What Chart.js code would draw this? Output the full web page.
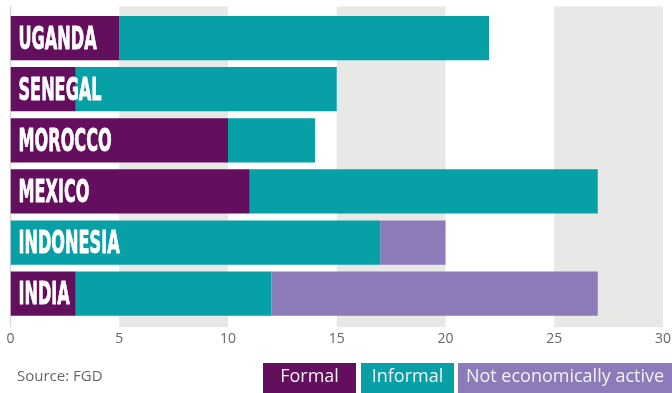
<!DOCTYPE html>
<html><head><meta charset="utf-8">
<script src="https://cdn.jsdelivr.net/npm/chart.js@4/dist/chart.umd.min.js"></script>
<style>
html,body{margin:0;padding:0;background:#fff;}
#wrap{position:relative;width:672px;height:393px;overflow:hidden;}
#c{position:absolute;left:0;top:0;}
.src{position:absolute;left:17px;top:365px;font:15px "Open Sans",sans-serif;color:#666;}
.lg{position:absolute;top:363px;height:32px;line-height:33px;text-align:center;font:18px "Open Sans",sans-serif;color:#f2f2f2;white-space:nowrap;}
</style></head>
<body><div id="wrap"><canvas id="c" width="672" height="393"></canvas>
<div class="src">Source: FGD</div>
<div id="legend"></div></div>
<script>
const countries = ["UGANDA","SENEGAL","MOROCCO","MEXICO","INDONESIA","INDIA"];
const seriesNames = ["Formal","Informal","Not economically active"];
const formal   = [5, 3, 10, 11, 0, 3];
const informal = [17, 12, 4, 16, 17, 9];
const notActive = [0, 0, 0, 0, 3, 15];
const xTicks = [0,5,10,15,20,25,30];
const colors = ["#630F5E","#07A0A6","#8D7AB8"];

const legendBoxes = [{left:263,width:93},{left:361,width:93},{left:458,width:214}];
const lgEl = document.getElementById('legend');
seriesNames.forEach((n,i)=>{
  const d=document.createElement('div');d.className='lg';
  d.style.left=legendBoxes[i].left+'px';d.style.width=legendBoxes[i].width+'px';
  d.style.background=colors[i];d.textContent=n;lgEl.appendChild(d);
});

const bandsPlugin = {
  id:'bands',
  beforeDatasetsDraw(chart){
    const {ctx, chartArea, scales:{x}} = chart;
    const top = chartArea.top-6, bottom = chartArea.bottom+8;
    ctx.save();
    ctx.fillStyle = '#E8E8E6';
    for (let v=5; v<30; v+=10){
      const a=x.getPixelForValue(v), b=x.getPixelForValue(v+5);
      ctx.fillRect(a, top, b-a, bottom-top);
    }
    ctx.strokeStyle='#D9D9D9';ctx.lineWidth=1.5;
    const x0=x.getPixelForValue(0);
    ctx.beginPath();ctx.moveTo(x0,top);ctx.lineTo(x0,bottom);ctx.stroke();
    ctx.restore();
  },
  afterDatasetsDraw(chart){
    const {ctx, scales:{x,y}} = chart;
    ctx.save();
    ctx.fillStyle='#ffffff';ctx.strokeStyle='#ffffff';ctx.lineWidth=0.8;ctx.lineJoin='round';
    ctx.font='bold 32px "Liberation Sans Narrow","DejaVu Sans Condensed",sans-serif';
    ctx.textBaseline='alphabetic';
    countries.forEach((c,i)=>{
      const yy=y.getPixelForValue(i);
      ctx.save();
      ctx.translate(x.getPixelForValue(0)+8, yy+10.5);
      ctx.scale(0.56,1);
      ctx.fillText(c,0,0);
      ctx.strokeText(c,0,0);
      ctx.restore();
    });
    ctx.restore();
  }
};

new Chart(document.getElementById('c'),{
  type:'bar',
  data:{labels:countries,datasets:[
    {label:seriesNames[0],data:formal,backgroundColor:colors[0]},
    {label:seriesNames[1],data:informal,backgroundColor:colors[1]},
    {label:seriesNames[2],data:notActive,backgroundColor:colors[2]}
  ]},
  options:{
    indexAxis:'y',responsive:false,animation:false,
    layout:{padding:{left:10.5,right:9,top:12.5,bottom:35}},
    datasets:{bar:{barPercentage:0.866,categoryPercentage:1,borderWidth:0}},
    plugins:{legend:{display:false},tooltip:{enabled:false}},
    scales:{
      x:{stacked:true,min:0,max:30,
        afterBuildTicks(s){s.ticks=xTicks.map(v=>({value:v}));},
        afterFit(s){s.paddingLeft=0;s.paddingRight=0;},
        grid:{display:false,drawTicks:false},border:{display:false},
        ticks:{padding:11,color:'#666',font:{family:'"Open Sans",sans-serif',size:14}}},
      y:{stacked:true,display:false}
    }
  },
  plugins:[bandsPlugin]
});
</script></body></html>
